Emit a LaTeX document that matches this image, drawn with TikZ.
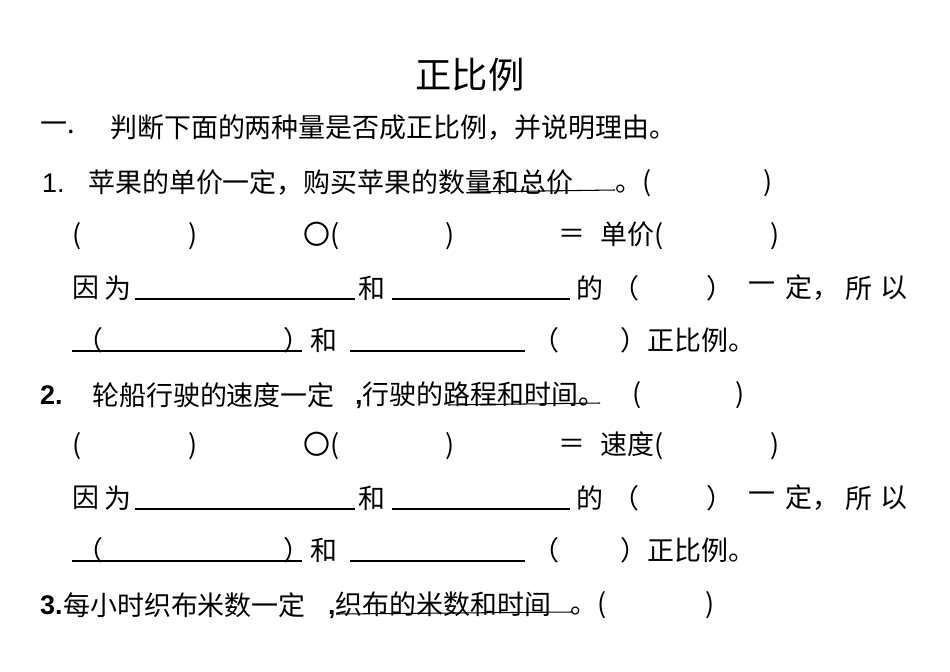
\documentclass[tikz,border=0pt]{standalone}
\usepackage{fontspec}
\setmainfont{Noto Sans CJK SC}
\newfontfamily\latinf{Liberation Sans}
\begin{document}
\begin{tikzpicture}[x=0.03cm,y=-0.03cm,
  t/.style={anchor=west,inner sep=0pt,font=\fontsize{23}{23}\selectfont},
  ul/.style={line width=0.9pt}]
\useasboundingbox (0,0) rectangle (950,672);
\node[inner sep=0pt,font=\fontsize{31}{31}\selectfont] (title) at (470,75) {正比例};
\node[t] (q) at (40,128) {一.};
\node[t] (q2) at (110,128) {判断下面的两种量是否成正比例，并说明理由。};
% item 1
\node[t] (n1) at (42,183) {\latinf 1.};
\node[t] (a1) at (88,183) {苹果的单价一定，购买苹果的数量和总价};
\node[t] (b1) at (615,183) {。(};
\node[t] (c1) at (763,183) {)};
\draw[ul] (470,192) -- (615,190);
% item 2
\node[t] (n2) at (40,395) {\latinf\bfseries 2.};
\node[t] (a2) at (92,395) {轮船行驶的速度一定};
\node[t] (a2b) at (355,395) {\latinf\bfseries ,\normalfont\rmfamily 行驶的路程和时间。};
\node[t] (c2) at (632,395) {(};
\node[t] (d2) at (735,395) {)};
\draw[ul] (448,405) -- (600,403);
% item 3
\node[t] (n3) at (40,605) {\latinf\bfseries 3.};
\node[t] (a3) at (63,605) {每小时织布米数一定};
\node[t] (a3b) at (328,605) {\latinf\bfseries ,\normalfont\rmfamily 织布的米数和时间};
\node[t] (b3) at (570,605) {。(};
\node[t] (c3) at (705,605) {)};
\draw[ul] (336,614) -- (572,612);
% repeated blocks
\foreach \yo/\w in {0/单价,210/速度}{
  \node[t] at (72,236+\yo) {(};
  \node[t] at (188,236+\yo) {)};
  \node[t] at (303,236+\yo) {〇(};
  \node[t] at (445,236+\yo) {)};
  \node[t] at (558,236+\yo) {＝};
  \node[t] at (600,236+\yo) {\w(};
  \node[t] at (770,236+\yo) {)};
  \node[t] at (72,288+\yo) {因};
  \node[t] at (104,288+\yo) {为};
  \draw[ul] (135,299+\yo) -- (355,299+\yo);
  \node[t] at (358,288+\yo) {和};
  \draw[ul] (392,299+\yo) -- (570,299+\yo);
  \node[t] at (576,288+\yo) {的};
  \node[t] at (612,288+\yo) {（};
  \node[t] at (706,288+\yo) {）};
  \node[t] at (748,288+\yo) {一};
  \node[t] at (785,288+\yo) {定，};
  \node[t] at (845,288+\yo) {所};
  \node[t] at (880,288+\yo) {以};
  \node[t] at (76,340+\yo) {（};
  \node[t] at (283,340+\yo) {）和};
  \draw[ul] (72,351+\yo) -- (302,351+\yo);
  \draw[ul] (350,351+\yo) -- (525,351+\yo);
  \node[t] at (532,340+\yo) {（};
  \node[t] at (620,340+\yo) {）正比例。};
}
\end{tikzpicture}
\end{document}
